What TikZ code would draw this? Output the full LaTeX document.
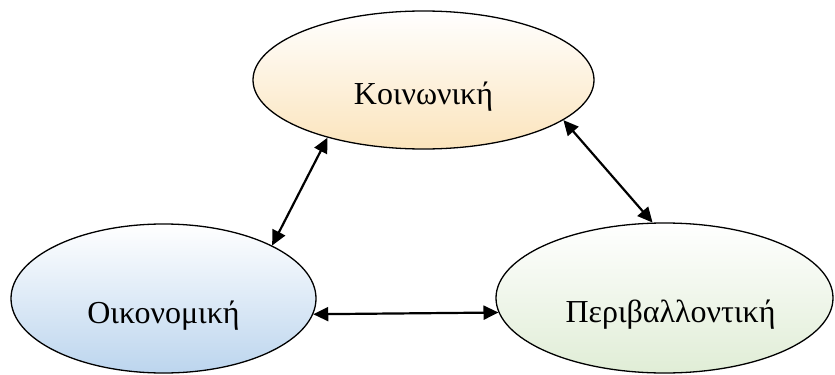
\documentclass[tikz,border=0pt]{standalone}
\usepackage{fontspec}
\setmainfont{Liberation Serif}
\usetikzlibrary{shapes.geometric,arrows.meta}
\definecolor{orangeB}{HTML}{FBE4BC}
\definecolor{blueB}{HTML}{BCD5EE}
\definecolor{greenB}{HTML}{E0EDD6}
\tikzset{
  oval/.style={ellipse, draw=black, line width=1.3bp, inner sep=0pt,
    shading=axis, shading angle=0},
  lbl/.style={inner sep=0pt, font=\fontsize{32bp}{38bp}\selectfont},
  link/.style={line width=2.2bp, {Triangle[length=15bp,width=14bp]}-{Triangle[length=15bp,width=14bp]}}
}
\begin{document}
\begin{tikzpicture}[x=1bp,y=1bp]
\useasboundingbox (0,0) rectangle (835,374);
\node[oval, minimum width=341bp, minimum height=138bp, top color=white, bottom color=orangeB] (K) at (423.5,294) {};
\node[oval, minimum width=305bp, minimum height=149bp, top color=white, bottom color=blueB] (O) at (163.5,75.5) {};
\node[oval, minimum width=337bp, minimum height=150bp, top color=white, bottom color=greenB] (P) at (664.5,76) {};
\node[lbl] (Kt) at ([yshift=-17bp]K.center) {Κοινωνική};
\node[lbl] (Ot) at ([yshift=-17bp]O.center) {Οικονομική};
\node[lbl] (Pt) at ([xshift=6bp,yshift=-17bp]P.center) {Περιβαλλοντική};
\draw[link] (K.211.4) -- (O.26.9);
\draw[link] (K.344.5) -- (P.99.3);
\draw[link] (O.-6.3) -- (P.185.9);
\end{tikzpicture}
\end{document}
